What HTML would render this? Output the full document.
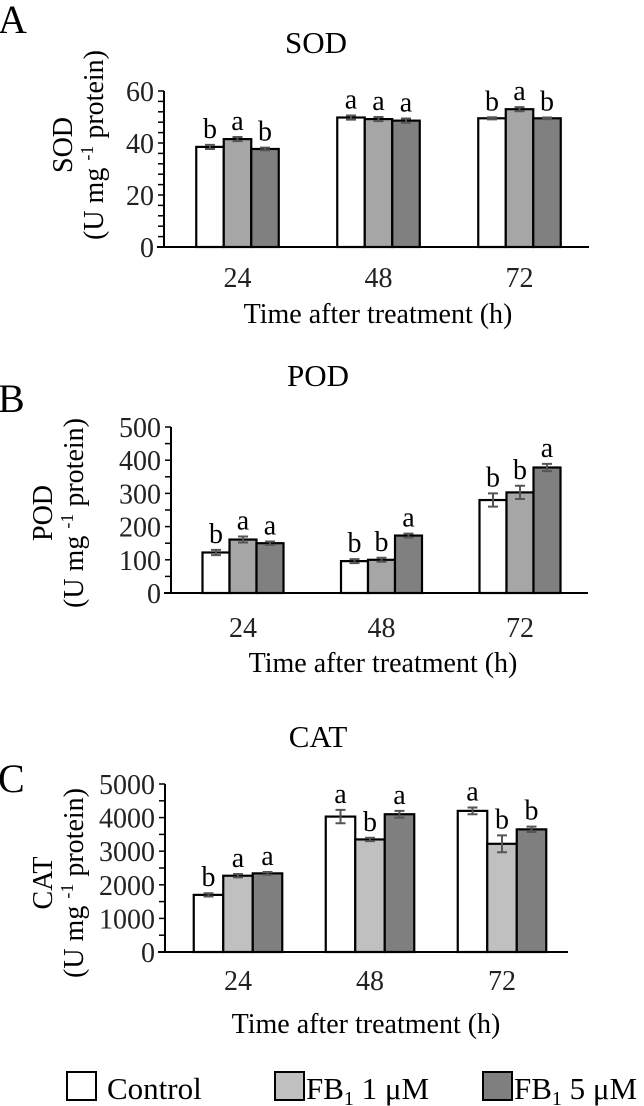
<!DOCTYPE html>
<html><head><meta charset="utf-8"><style>
html,body{margin:0;padding:0;background:#fff;}
svg{display:block;font-family:"Liberation Serif",serif;}
</style></head><body>
<svg id="fig" width="644" height="1106" viewBox="0 0 644 1106" xmlns="http://www.w3.org/2000/svg">
<text x="-2" y="33" font-size="40">A</text>
<text x="-2" y="412" font-size="40">B</text>
<text x="-2" y="792" font-size="40">C</text>
<g id="legend">
  <rect x="67" y="1072" width="29" height="28" fill="#fff" stroke="#000" stroke-width="2"/>
  <text x="107" y="1099" font-size="31">Control</text>
  <rect x="275" y="1072" width="29" height="28" fill="#c0c0c0" stroke="#000" stroke-width="2"/>
  <text x="306" y="1099" font-size="31">FB<tspan font-size="20" dy="6">1</tspan><tspan dy="-6"> 1 μM</tspan></text>
  <rect x="483" y="1072" width="29" height="28" fill="#7f7f7f" stroke="#000" stroke-width="2"/>
  <text x="514" y="1099" font-size="31">FB<tspan font-size="20" dy="6">1</tspan><tspan dy="-6"> 5 μM</tspan></text>
</g>
</svg>
<script>
const categories = ["24", "48", "72"];
const sodControl = [38.5, 49.8, 49.5];
const sodFb1 = [41.5, 49.2, 53.0];
const sodFb5 = [37.7, 48.6, 49.5];
const sodErr = [[0.8, 0.8, 0.4], [0.8, 0.8, 0.8], [0.5, 0.8, 0.3]];
const sodLetters = [["b","a","b"],["a","a","a"],["b","a","b"]];
const sodTicks = [0, 20, 40, 60];

const podControl = [122, 96, 280];
const podFb1 = [161, 100, 303];
const podFb5 = [150, 173, 378];
const podErr = [[8, 6, 20], [9, 6, 20], [5, 6, 11]];
const podLetters = [["b","a","a"],["b","b","a"],["b","b","a"]];
const podTicks = [0, 100, 200, 300, 400, 500];

const catControl = [1700, 4030, 4200];
const catFb1 = [2270, 3350, 3220];
const catFb5 = [2340, 4100, 3650];
const catErr = [[50, 200, 100], [50, 50, 250], [40, 100, 80]];
const catLetters = [["b","a","a"],["a","b","a"],["a","b","b"]];
const catTicks = [0, 1000, 2000, 3000, 4000, 5000];

const NS = "http://www.w3.org/2000/svg";
const svg = document.getElementById("fig");
function mk(tag, attrs, parent) {
  const e = document.createElementNS(NS, tag);
  for (const k in attrs) e.setAttribute(k, attrs[k]);
  (parent || svg).appendChild(e);
  return e;
}
function panel(cfg) {
  const g = mk("g", {});
  
  
  const yMax = cfg.ticks[cfg.ticks.length - 1];
  const y = v => cfg.y0 - (v / yMax) * (cfg.y0 - cfg.yTop);
  const t = mk("text", {x: cfg.titleX, y: cfg.titleY, "font-size": 31, "text-anchor": "middle"}, g);
  t.textContent = cfg.title;
  
  
  const ax = mk("line", {x1: cfg.ax, x2: cfg.ax, y1: cfg.yTop, y2: cfg.y0, stroke: "#000", "stroke-width": 2}, g);
  
  
  const xa = mk("line", {x1: cfg.ax - 7, x2: cfg.axEnd, y1: cfg.y0, y2: cfg.y0, stroke: "#000", "stroke-width": 2}, g);
  
  
  for (let v = 0; v <= yMax + 1e-9; v += cfg.minor) {
    mk("line", {x1: cfg.ax - 6, x2: cfg.ax, y1: y(v), y2: y(v), stroke: "#000", "stroke-width": 1.5}, g);
  }
  cfg.ticks.forEach(v => {
    const tl = mk("text", {x: cfg.ax - 10, y: y(v) + 10, "font-size": 28, "text-anchor": "end", fill: "#222"}, g);
    tl.textContent = v;
    
    
  });
  const yt = mk("text", {transform: `translate(${cfg.ytX},${cfg.ytY}) rotate(-90)`, "font-size": 28, "text-anchor": "middle"}, g);
  yt.textContent = cfg.title;
  
  
  const yt2 = mk("text", {transform: `translate(${cfg.ytX + 31},${cfg.ytY}) rotate(-90)`, "font-size": 28, "text-anchor": "middle"}, g);
  yt2.innerHTML = '(U mg <tspan font-size="18" dy="-10">-1</tspan><tspan dy="10"> protein)</tspan>';
  
  
  const series = [cfg.s0, cfg.s1, cfg.s2];
  const fills = ["#ffffff", cfg.c1, cfg.c2];
  const names = ["control", "fb1-1um", "fb1-5um"];
  categories.forEach((c, i) => {
    const cx = cfg.centers0 + i * cfg.spacing;
    const tl = mk("text", {x: cx, y: cfg.tickY, "font-size": 28, "text-anchor": "middle", fill: "#222"}, g);
    tl.textContent = c;
    
    
    for (let s = 0; s < 3; s++) {
      const v = series[s][i];
      const x = cx + (s - 1.5) * cfg.bw;
      const r = mk("rect", {x: x, y: y(v), width: cfg.bw, height: cfg.y0 - y(v), fill: fills[s], stroke: "#000", "stroke-width": 2.2}, g);
      
      
      const e = cfg.err[s][i];
      const mx = x + cfg.bw / 2;
      const eb = mk("path", {d: `M${mx-5},${y(v+e)}H${mx+5}M${mx},${y(v+e)}V${y(v-e)}M${mx-5},${y(v-e)}H${mx+5}`, stroke: "#555", "stroke-width": 2, fill: "none"}, g);
      
      
      const lt = mk("text", {x: mx, y: y(v + e) - 7, "font-size": 28, "text-anchor": "middle"}, g);
      lt.textContent = cfg.letters[i][s];
      
      
    }
  });
  const xt = mk("text", {x: cfg.xlX, y: cfg.xlY, "font-size": 28, "text-anchor": "middle"}, g);
  xt.textContent = "Time after treatment (h)";
  
  
}
panel({name: "sod", title: "SOD", titleX: 316, titleY: 53, ax: 164, axEnd: 589, y0: 247, yTop: 91,
  ticks: sodTicks, minor: 4, ytX: 72, ytY: 145, s0: sodControl, s1: sodFb1, s2: sodFb5,
  err: sodErr, letters: sodLetters, c1: "#a6a6a6", c2: "#808080",
  centers0: 237.5, spacing: 141, bw: 27.5, tickY: 287, xlX: 378, xlY: 323});
panel({name: "pod", title: "POD", titleX: 318, titleY: 386, ax: 171, axEnd: 588, y0: 593, yTop: 427,
  ticks: podTicks, minor: 50, ytX: 52, ytY: 513, s0: podControl, s1: podFb1, s2: podFb5,
  err: podErr, letters: podLetters, c1: "#a6a6a6", c2: "#808080",
  centers0: 243, spacing: 138.5, bw: 27, tickY: 637, xlX: 383, xlY: 672});
panel({name: "cat", title: "CAT", titleX: 318, titleY: 747, ax: 165, axEnd: 568, y0: 952, yTop: 784,
  ticks: catTicks, minor: 500, ytX: 52, ytY: 883, s0: catControl, s1: catFb1, s2: catFb5,
  err: catErr, letters: catLetters, c1: "#c0c0c0", c2: "#7f7f7f",
  centers0: 238, spacing: 132, bw: 29.5, tickY: 990, xlX: 366, xlY: 1033});
</script>
</body></html>
